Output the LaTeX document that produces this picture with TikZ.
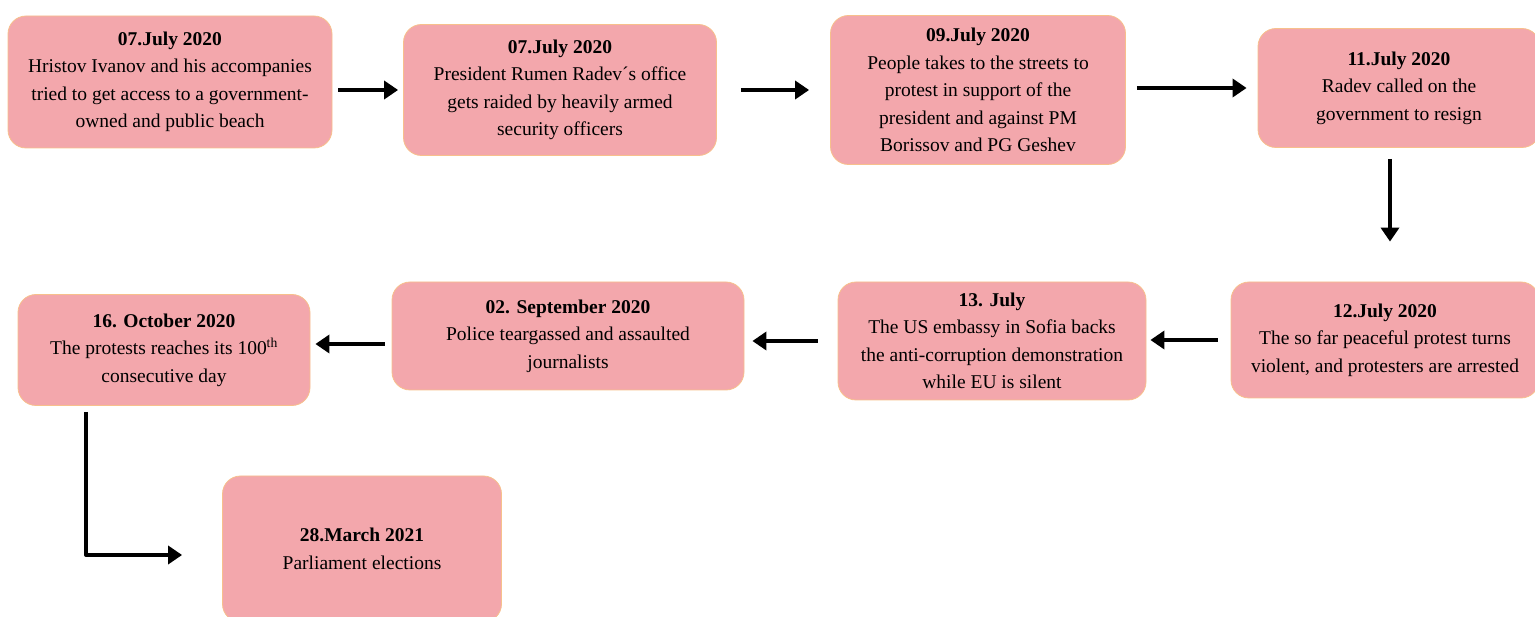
\documentclass[tikz,border=0pt]{standalone}
\usepackage{fontspec}
\setmainfont{Liberation Serif}
\usetikzlibrary{arrows.meta}
\definecolor{boxfill}{RGB}{243,167,172}
\definecolor{boxline}{RGB}{247,192,140}

\begin{document}
\begin{tikzpicture}[x=1pt,y=-1pt,
	event/.style={draw=boxline,line width=0.8pt,fill=boxfill,rounded corners=18pt,
		align=center,inner sep=0pt,font=\fontsize{19.5}{27.5}\selectfont},
	flow/.style={line width=4pt,line join=round,-{Triangle[length=14pt,width=18pt]}}]
	\useasboundingbox (0,0) rectangle (1535,617);
	
	% first row
	
	\node[event,minimum width=324pt,minimum height=132pt] (E1) at (170,82)
		{\textbf{07.July 2020}\\Hristov Ivanov and his accompanies\\tried to get access to a government-\\owned and public beach};
	\node[event,minimum width=313pt,minimum height=131pt] (E2) at (560,90)
		{\textbf{07.July 2020}\\President Rumen Radev´s office\\gets raided by heavily armed\\security officers};
	\node[event,minimum width=295pt,minimum height=149pt] (E3) at (978,90)
		{\textbf{09.July 2020}\\People takes to the streets to\\protest in support of the\\president and against PM\\Borissov and PG Geshev};
	\node[event,minimum width=282pt,minimum height=119pt] (E4) at (1399,88)
		{\textbf{11.July 2020}\\Radev called on the\\government to resign};
	
	\draw[flow,shorten <=6pt,shorten >=5pt] (E1.east |- E2.west) -- (E2.west);
	\draw[flow,shorten <=24pt,shorten >=21pt] (E2.east |- E3.west) -- (E3.west);
	\draw[flow,shorten <=11pt,shorten >=11pt] (E3.east |- E4.west) -- (E4.west);
	
	% second row
	
	\node[event,minimum width=308pt,minimum height=116pt] (E5) at (1385,340)
		{\textbf{12.July 2020}\\The so far peaceful protest turns\\violent, and protesters are arrested};
	\node[event,minimum width=308pt,minimum height=118pt] (E6) at (992,341)
		{\textbf{13. July}\\The US embassy in Sofia backs\\the anti-corruption demonstration\\while EU is silent};
	\node[event,minimum width=352pt,minimum height=108pt] (E7) at (568,336)
		{\textbf{02. September 2020}\\Police teargassed and assaulted\\journalists};
	\node[event,minimum width=292pt,minimum height=111pt] (E8) at (164,350)
		{\textbf{16. October 2020}\\The protests reaches its 100\textsuperscript{th}\\consecutive day};
	
	\draw[flow,shorten <=11pt,shorten >=40pt] ([xshift=-9pt]E4.south) -- ([xshift=-9pt]E4.south |- E5.north);
	\draw[flow,shorten <=13pt,shorten >=4pt] (E5.west) -- (E5.west -| E6.east);
	\draw[flow,shorten <=20pt,shorten >=8pt] (E6.west) -- (E6.west -| E7.east);
	\draw[flow,shorten <=7pt,shorten >=5pt] ([yshift=-8pt]E7.west) -- ([yshift=-8pt]E7.west -| E8.east);
	
	% last one
	
	\node[event,minimum width=279pt,minimum height=146pt] (E9) at (362,549)
		{\textbf{28.March 2021}\\Parliament elections};
	\draw[flow,shorten <=6pt,shorten >=40pt] ([xshift=-78pt]E8.south) |- ([yshift=-6pt]E9.west);
	
\end{tikzpicture}
\end{document}
